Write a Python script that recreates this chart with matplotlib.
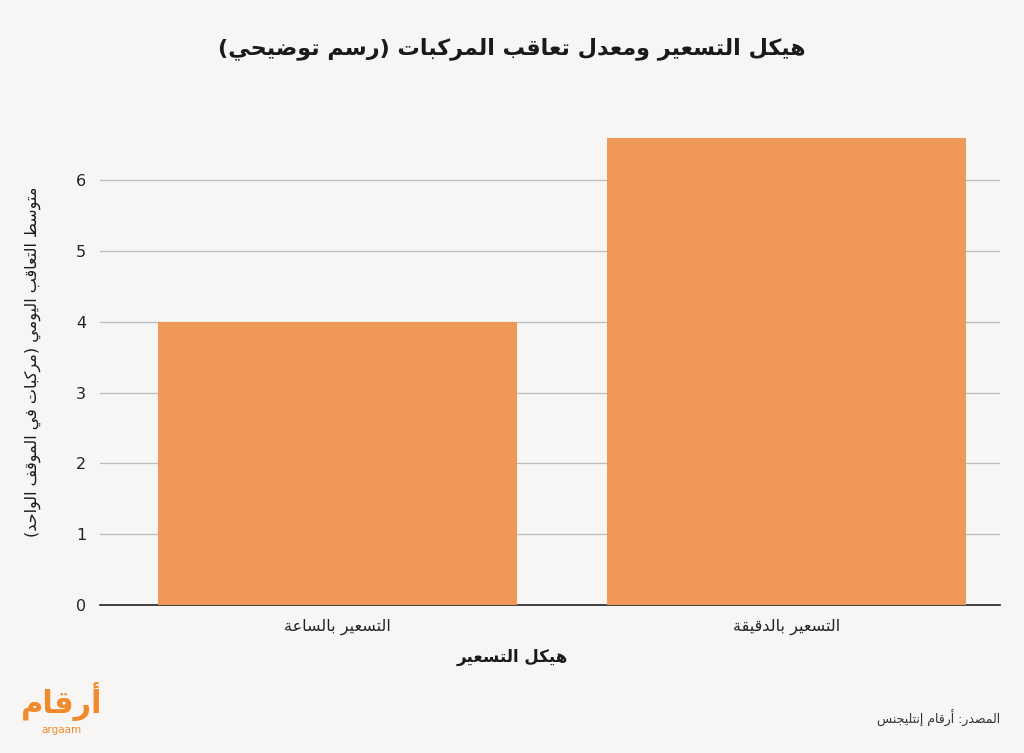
import matplotlib
matplotlib.use("Agg")
import matplotlib.pyplot as plt

# Minimal Arabic shaping (presentation forms) + visual reversal for RTL text.
FORMS = {
    "ا": (0xFE8D, 0xFE8E, None, None), "أ": (0xFE83, 0xFE84, None, None),
    "إ": (0xFE87, 0xFE88, None, None), "آ": (0xFE81, 0xFE82, None, None),
    "ب": (0xFE8F, 0xFE90, 0xFE91, 0xFE92), "ة": (0xFE93, 0xFE94, None, None),
    "ت": (0xFE95, 0xFE96, 0xFE97, 0xFE98), "ث": (0xFE99, 0xFE9A, 0xFE9B, 0xFE9C),
    "ج": (0xFE9D, 0xFE9E, 0xFE9F, 0xFEA0), "ح": (0xFEA1, 0xFEA2, 0xFEA3, 0xFEA4),
    "خ": (0xFEA5, 0xFEA6, 0xFEA7, 0xFEA8), "د": (0xFEA9, 0xFEAA, None, None),
    "ذ": (0xFEAB, 0xFEAC, None, None), "ر": (0xFEAD, 0xFEAE, None, None),
    "ز": (0xFEAF, 0xFEB0, None, None), "س": (0xFEB1, 0xFEB2, 0xFEB3, 0xFEB4),
    "ش": (0xFEB5, 0xFEB6, 0xFEB7, 0xFEB8), "ص": (0xFEB9, 0xFEBA, 0xFEBB, 0xFEBC),
    "ض": (0xFEBD, 0xFEBE, 0xFEBF, 0xFEC0), "ط": (0xFEC1, 0xFEC2, 0xFEC3, 0xFEC4),
    "ظ": (0xFEC5, 0xFEC6, 0xFEC7, 0xFEC8), "ع": (0xFEC9, 0xFECA, 0xFECB, 0xFECC),
    "غ": (0xFECD, 0xFECE, 0xFECF, 0xFED0), "ف": (0xFED1, 0xFED2, 0xFED3, 0xFED4),
    "ق": (0xFED5, 0xFED6, 0xFED7, 0xFED8), "ك": (0xFED9, 0xFEDA, 0xFEDB, 0xFEDC),
    "ل": (0xFEDD, 0xFEDE, 0xFEDF, 0xFEE0), "م": (0xFEE1, 0xFEE2, 0xFEE3, 0xFEE4),
    "ن": (0xFEE5, 0xFEE6, 0xFEE7, 0xFEE8), "ه": (0xFEE9, 0xFEEA, 0xFEEB, 0xFEEC),
    "و": (0xFEED, 0xFEEE, None, None), "ى": (0xFEEF, 0xFEF0, None, None),
    "ي": (0xFEF1, 0xFEF2, 0xFEF3, 0xFEF4), "ء": (0xFE80, None, None, None),
}
LAM_ALEF = {"ا": (0xFEFB, 0xFEFC), "أ": (0xFEF7, 0xFEF8),
            "إ": (0xFEF9, 0xFEFA), "آ": (0xFEF5, 0xFEF6)}


def joins_next(c):
    return c in FORMS and FORMS[c][2] is not None


def ar(text):
    # ligatures lam-alef first
    chars = []
    i = 0
    while i < len(text):
        if text[i] == "ل" and i + 1 < len(text) and text[i + 1] in LAM_ALEF:
            chars.append(("LA", text[i + 1]))
            i += 2
        else:
            chars.append(text[i])
            i += 1
    out = []
    for k, c in enumerate(chars):
        prev = chars[k - 1] if k > 0 else None
        p_join = isinstance(prev, str) and joins_next(prev)
        if isinstance(c, tuple):
            iso, fin = LAM_ALEF[c[1]]
            out.append(chr(fin if p_join else iso))
            continue
        if c not in FORMS:
            out.append({"(": ")", ")": "("}.get(c, c))
            continue
        nxt = chars[k + 1] if k + 1 < len(chars) else None
        n_join = nxt is not None and (isinstance(nxt, tuple) or nxt in FORMS) and joins_next(c)
        iso, fin, ini, med = FORMS[c]
        if p_join and n_join:
            code = med
        elif p_join:
            code = fin
        elif n_join:
            code = ini
        else:
            code = iso
        out.append(chr(code if code else iso))
    return "".join(reversed(out))


categories = ["التسعير بالساعة", "التسعير بالدقيقة"]
values = [4.0, 6.6]
y_ticks = [0, 1, 2, 3, 4, 5, 6]

BG = "#f7f6f4"
BAR = "#f09855"
ORANGE = "#f08a2c"

plt.rcParams["font.family"] = ["DejaVu Sans"]
fig = plt.figure(figsize=(10.24, 7.53), dpi=100, facecolor=BG)
ax = fig.add_axes([0.0977, 0.1965, 0.879, 0.649], facecolor=BG)

x = list(range(len(categories)))
ax.bar(x, values, width=0.8, color=BAR, zorder=3)
ax.set_xlim(-0.529, 1.475)
ax.set_ylim(0, 6.9)
ax.set_yticks(y_ticks)
ax.set_yticklabels([str(t) for t in y_ticks], fontsize=11.5, color="#222222")
ax.set_xticks(x)
ax.set_xticklabels([ar(c) for c in categories], fontsize=11.5, color="#222222")
ax.tick_params(length=0, pad=10)
ax.grid(axis="y", color="#bbbbbb", linewidth=0.9, zorder=0)
for s in ["top", "right", "left"]:
    ax.spines[s].set_visible(False)
ax.spines["bottom"].set_color("#222222")
ax.spines["bottom"].set_linewidth(1.2)

fig.text(0.5, 0.935, ar("هيكل التسعير ومعدل تعاقب المركبات (رسم توضيحي)"),
         ha="center", va="center", fontsize=16, fontweight="bold", color="#1a1a1a")
fig.text(0.5, 0.128, ar("هيكل التسعير"), ha="center", va="center",
         fontsize=12, fontweight="bold", color="#1a1a1a")
fig.text(0.032, 0.52, ar("متوسط التعاقب اليومي (مركبات في الموقف الواحد)"),
         ha="center", va="center", rotation=90, fontsize=11.5, color="#1a1a1a")
fig.text(0.977, 0.046, ar("المصدر: أرقام إنتليجنس"), ha="right", va="center",
         fontsize=9, color="#333333")
fig.text(0.06, 0.068, ar("أرقام"), ha="center", va="center",
         fontsize=22, fontweight="bold", color=ORANGE)
fig.text(0.06, 0.03, "argaam", ha="center", va="center",
         fontsize=7.5, color=ORANGE)

fig.savefig("out.png", dpi=100, facecolor=BG)
